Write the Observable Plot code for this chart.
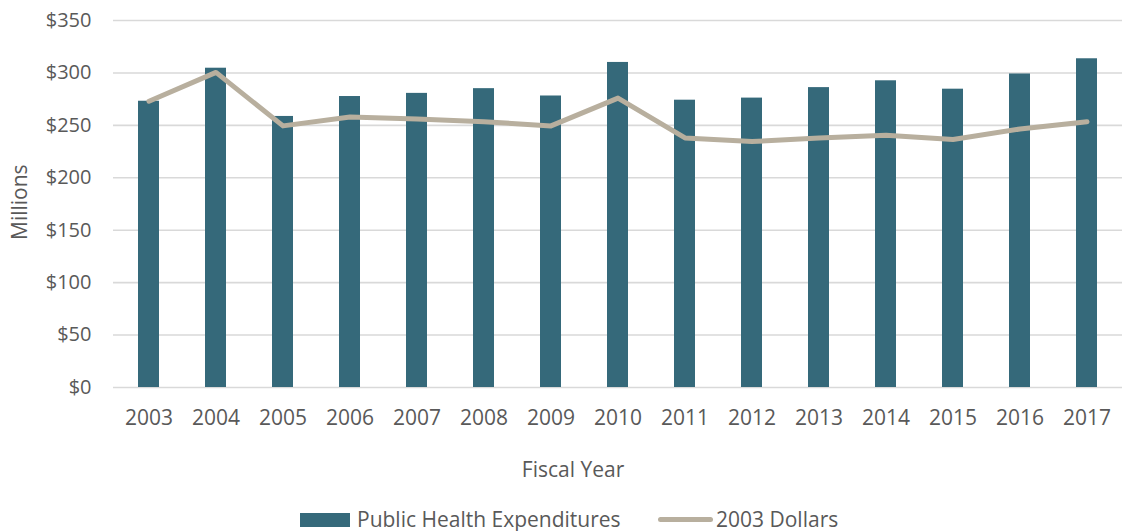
<!DOCTYPE html>
<html>
<head>
<meta charset="utf-8">
<script src="https://cdn.jsdelivr.net/npm/d3@7"></script>
<script src="https://cdn.jsdelivr.net/npm/@observablehq/plot@0.6"></script>
<style>
  html, body { margin: 0; padding: 0; background: #fff; }
  #wrap { position: relative; width: 1125px; height: 531px; font-family: "Open Sans", sans-serif; color: #595959; }
  #chart svg { display: block; }
  .leg { position: absolute; font-size: 21px; line-height: 1; color: #595959; white-space: nowrap; }
</style>
</head>
<body>
<div id="wrap">
  <div id="chart"></div>
  <div class="leg" style="left:300px; top:513px; width:50px; height:14px; background:#35697a;"></div>
  <div class="leg" style="left:357px; top:509px;">Public Health Expenditures</div>
  <div class="leg" style="left:658px; top:517px; width:55px; height:5px; border-radius:3px; background:#b8af9e;"></div>
  <div class="leg" style="left:716px; top:509px;">2003 Dollars</div>
</div>
<script>
const years = ["2003","2004","2005","2006","2007","2008","2009","2010","2011","2012","2013","2014","2015","2016","2017"];
const expenditures = [273, 304.5, 258.5, 277.5, 280.5, 285, 278, 310, 274, 276, 286, 292.5, 284.5, 299, 313.5];
const dollars2003 = [273, 300.5, 249.5, 258, 256, 253.5, 249.5, 276, 238, 234.5, 238, 240.5, 236.5, 246.5, 253.5];
const yTicks = [0, 50, 100, 150, 200, 250, 300, 350];

const rows = years.map((y, i) => ({year: y, exp: expenditures[i], real: dollars2003[i]}));

const chart = Plot.plot({
  width: 1125,
  height: 500,
  marginTop: 20,
  marginLeft: 113,
  marginRight: 3,
  marginBottom: 113,
  style: {fontFamily: "Open Sans, sans-serif", fontSize: "20px", color: "#595959", background: "#fff"},
  x: {type: "band", domain: years, paddingInner: 0.6875, paddingOuter: 0.34375, label: null},
  y: {domain: [0, 350], label: null},
  marks: [
    Plot.ruleY(yTicks, {stroke: "#d9d9d9", strokeWidth: 1.6}),
    Plot.barY(rows, {x: "year", y: "exp", fill: "#35697a"}),
    Plot.line(rows, {x: "year", y: "real", stroke: "#b8af9e", strokeWidth: 5, strokeLinejoin: "round", strokeLinecap: "round"}),
    Plot.axisY(yTicks, {tickSize: 0, tickPadding: 22, tickFormat: d => "$" + d, fontSize: 20, label: null}),
    Plot.axisX({tickSize: 0, tickPadding: 23, fontSize: 21, label: null}),
    Plot.text(["Millions"], {frameAnchor: "left", dx: -93, dy: 36, rotate: -90, fontSize: 21, fill: "#595959"}),
    Plot.text(["Fiscal Year"], {frameAnchor: "bottom", dx: -45, dy: 89, fontSize: 21, fill: "#595959"})
  ]
});
document.getElementById("chart").appendChild(chart);
</script>
</body>
</html>
